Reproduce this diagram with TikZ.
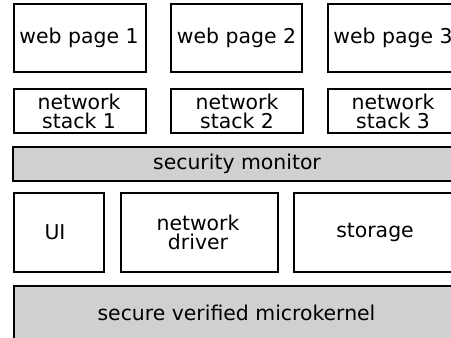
\documentclass[tikz,border=0pt]{standalone}
\usepackage{fontspec}
\setmainfont{DejaVu Sans}
\definecolor{boxgray}{RGB}{208,208,208}
\tikzset{
  lay/.style={draw=black, line width=1.5pt, fill=white},
  graylay/.style={lay, fill=boxgray},
  lbl/.style={font=\fontsize{15.3pt}{14.3pt}\selectfont, align=center, inner sep=0pt}
}
\begin{document}
\begin{tikzpicture}[x=0.75pt,y=-0.75pt]
\useasboundingbox (0,0) rectangle (451,338);
\begin{scope}
\clip (0,0) rectangle (451,338);
% top row
\draw[lay] (14,4) rectangle (146,72);
\draw[lay] (171,4) rectangle (302,72);
\draw[lay] (328,4) rectangle (458,72);
\node[lbl] (wp1) at (79,38) {web page 1};
\node[lbl] (wp2) at (236.5,38) {web page 2};
\node[lbl] (wp3) at (393,38) {web page 3};
% network stacks
\draw[lay] (14,89) rectangle (146,133);
\draw[lay] (171,89) rectangle (303,133);
\draw[lay] (328,89) rectangle (458,133);
\node[lbl] (ns1) at (79,111) {network\\stack 1};
\node[lbl] (ns2) at (237,111) {network\\stack 2};
\node[lbl] (ns3) at (393,111) {network\\stack 3};
% security monitor
\draw[graylay] (13,147) rectangle (461,181);
\node[lbl] (sm) at (237,164) {security monitor};
% services
\draw[lay] (14,193) rectangle (104,272);
\draw[lay] (121,193) rectangle (278,272);
\draw[lay] (294,193) rectangle (456,272);
\node[lbl] (ui) at (55,232.5) {UI};
\node[lbl] (nd) at (198,232.5) {network\\driver};
\node[lbl] (st) at (375,232.5) {storage};
% microkernel
\draw[graylay] (14,286) rectangle (459,340);
\node[lbl] (mk) at (236.5,313) {secure verified microkernel};
\end{scope}
\end{tikzpicture}
\end{document}
